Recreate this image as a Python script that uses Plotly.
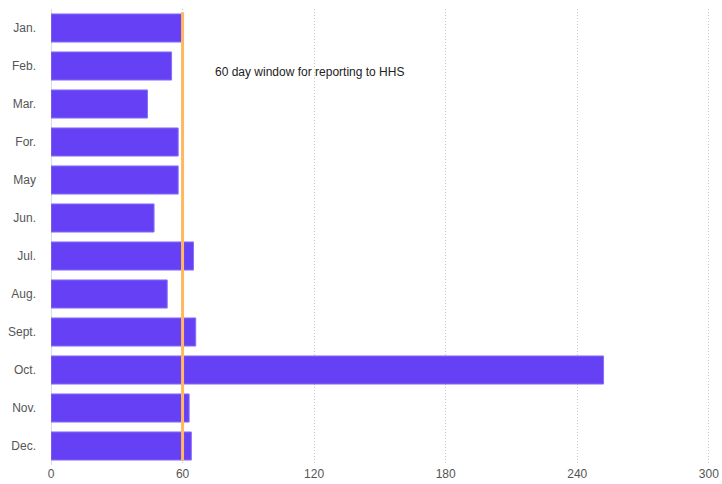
import plotly.graph_objects as go

months = ["Jan.", "Feb.", "Mar.", "For.", "May", "Jun.", "Jul.", "Aug.", "Sept.", "Oct.", "Nov.", "Dec."]
days = [60, 55, 44, 58, 58, 47, 65, 53, 66, 252, 63, 64]
window_days = 60
x_ticks = [0, 60, 120, 180, 240, 300]
note = "60 day window for reporting to HHS"

fig = go.Figure()
fig.add_trace(go.Bar(
    y=months, x=days, orientation="h",
    marker=dict(color="#6640f5", line=dict(color="#8a70f7", width=1)),
    hoverinfo="x+y",
))
fig.add_shape(type="line", xref="x", yref="paper", x0=window_days, x1=window_days,
              y0=0.01, y1=0.993, line=dict(color="#ffb762", width=3))
fig.add_annotation(x=74, y=1.15, xref="x", yref="y", text=note, showarrow=False,
                   xanchor="left", yanchor="middle",
                   font=dict(family="Liberation Sans, Arial", size=12, color="#222"))

fig.update_layout(
    width=722, height=484,
    margin=dict(l=51, r=11, t=9, b=19, autoexpand=False),
    paper_bgcolor="white", plot_bgcolor="white",
    bargap=0.26, showlegend=False,
    font=dict(family="Liberation Sans, Arial", size=12, color="#555"),
    xaxis=dict(range=[0, 301], tickvals=x_ticks, showgrid=True, gridcolor="#c8c8c8",
               griddash="1px,2px", gridwidth=1, zeroline=True, zerolinecolor="#dcdcdc",
               zerolinewidth=1, showline=False, ticks="", fixedrange=True, automargin=False),
    yaxis=dict(autorange="reversed", showgrid=False, ticks="", ticklabelstandoff=14,
               showline=False, fixedrange=True, automargin=False),
)
fig.write_html("out.html")
